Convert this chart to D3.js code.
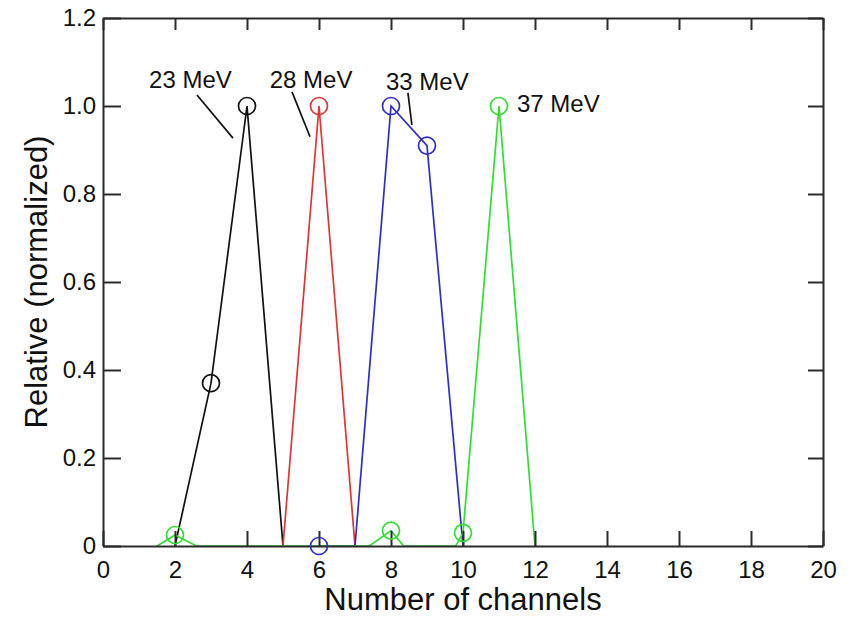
<!DOCTYPE html>
<html>
<head>
<meta charset="utf-8">
<script src="https://cdn.jsdelivr.net/npm/d3@7"></script>
<style>
  body { margin: 0; background: #fff; }
  svg { font-family: "Liberation Sans", Arial, Helvetica, sans-serif; }
  .frame path.domain, .frame line { stroke: #2a2a2a; stroke-width: 2; }
  .tick text { fill: #111; font-size: 24px; }
</style>
</head>
<body>
<svg width="854" height="617"></svg>
<script>
        // Chart data.
        const xTicks = [0, 2, 4, 6, 8, 10, 12, 14, 16, 18, 20];
        const yTicks = [0, 0.2, 0.4, 0.6, 0.8, 1.0, 1.2];

        const black23X = [2, 3, 4, 5];
        const black23Y = [0, 0.37, 1.0, 0];
        const black23Mark = [false, true, true, false];
        const red28X = [5, 6, 7];
        const red28Y = [0, 1.0, 0];
        const red28Mark = [false, true, false];
        const blue33X = [6, 7, 8, 9, 10];
        const blue33Y = [0, 0, 1.0, 0.91, 0];
        const blue33Mark = [true, false, true, true, false];
        const green37X = [1.5, 2, 2.6, 7.4, 8, 8.35, 9.8, 10, 11, 12];
        const green37Y = [0, 0.025, 0, 0, 0.035, 0, 0, 0.03, 1.0, 0];
        const green37Mark = [false, true, false, false, true, false, false, true, true, false];

        const seriesNames = ["23 MeV", "28 MeV", "33 MeV", "37 MeV"];
        const seriesColors = ["#111111", "#e23535", "#2e2ecf", "#30de30"];

        // Label anchors in data units, plus the leader lines.
        const labelX = [2.43, 5.78, 9.01, 11.5];
        const labelY = [1.041, 1.041, 1.036, 0.986];
        const labelAnchor = ["middle", "middle", "middle", "start"];
        const leaders = [
            [[2.61, 1.025], [3.61, 0.927]],
            [[5.25, 1.032], [5.75, 0.93]],
            [[8.47, 1.03], [8.58, 0.957]]
        ];

        const svg = d3.select("svg");
        const margin = { left: 103, right: 31, top: 18, bottom: 71 };
        const width = 854 - margin.left - margin.right;
        const height = 617 - margin.top - margin.bottom;

        const x = d3.scaleLinear().domain([0, 20]).range([margin.left, margin.left + width]);
        const y = d3.scaleLinear().domain([0, 1.2]).range([margin.top + height, margin.top]);

        const series = [
            { xs: black23X, ys: black23Y, marks: black23Mark },
            { xs: red28X, ys: red28Y, marks: red28Mark },
            { xs: blue33X, ys: blue33Y, marks: blue33Mark },
            { xs: green37X, ys: green37Y, marks: green37Mark }
        ].map((s, i) => ({
            name: seriesNames[i],
            color: seriesColors[i],
            points: s.xs.map((v, j) => ({ x: v, y: s.ys[j], mark: s.marks[j] }))
        }));

        const line = d3.line().x(d => x(d.x)).y(d => y(d.y));

        // Data lines first, so the frame covers the parts lying on zero.
        svg.append("g").selectAll("path")
            .data(series)
            .enter()
            .append("path")
            .attr("d", d => line(d.points))
            .attr("fill", "none")
            .attr("stroke", d => d.color)
            .attr("stroke-width", 1.7);

        // Frame with inward ticks on all four sides.
        svg.append("g")
            .attr("class", "frame")
            .attr("transform", `translate(0,${y(0)})`)
            .call(d3.axisBottom(x).tickValues(xTicks).tickSizeInner(-15).tickSizeOuter(0).tickPadding(15))
            .call(g => g.selectAll(".tick text").attr("dy", "0.71em"));

        svg.append("g")
            .attr("class", "frame")
            .attr("transform", `translate(0,${y(1.2)})`)
            .call(d3.axisTop(x).tickValues(xTicks).tickSizeInner(-12).tickSizeOuter(0).tickFormat(""));

        svg.append("g")
            .attr("class", "frame")
            .attr("transform", `translate(${x(0)},0)`)
            .call(d3.axisLeft(y).tickValues(yTicks).tickSizeInner(-18).tickSizeOuter(0).tickPadding(7)
                .tickFormat(d => d === 0 ? "0" : d.toFixed(1)));

        svg.append("g")
            .attr("class", "frame")
            .attr("transform", `translate(${x(20)},0)`)
            .call(d3.axisRight(y).tickValues(yTicks).tickSizeInner(-15).tickSizeOuter(0).tickFormat(""));

        // Open circle markers.
        svg.append("g").selectAll("g")
            .data(series)
            .enter()
            .append("g")
            .attr("stroke", d => d.color)
            .selectAll("circle")
            .data(d => d.points.filter(p => p.mark))
            .enter()
            .append("circle")
            .attr("cx", d => x(d.x))
            .attr("cy", d => y(d.y))
            .attr("r", 8.5)
            .attr("fill", "none")
            .attr("stroke-width", 1.7);

        // Energy labels and leader lines.
        svg.append("g").selectAll("text")
            .data(seriesNames)
            .enter()
            .append("text")
            .attr("x", (d, i) => x(labelX[i]))
            .attr("y", (d, i) => y(labelY[i]))
            .attr("text-anchor", (d, i) => labelAnchor[i])
            .attr("font-size", 24)
            .attr("fill", "#111")
            .text(d => d);

        svg.append("g").selectAll("line")
            .data(leaders)
            .enter()
            .append("line")
            .attr("x1", d => x(d[0][0]))
            .attr("y1", d => y(d[0][1]))
            .attr("x2", d => x(d[1][0]))
            .attr("y2", d => y(d[1][1]))
            .attr("stroke", "#111")
            .attr("stroke-width", 1.7);

        // Axis titles.
        svg.append("text")
            .attr("x", x(10))
            .attr("y", 610)
            .attr("text-anchor", "middle")
            .attr("font-size", 31)
            .attr("fill", "#111")
            .text("Number of channels");

        svg.append("text")
            .attr("transform", `translate(47,${y(0.6)}) rotate(-90)`)
            .attr("text-anchor", "middle")
            .attr("font-size", 31)
            .attr("fill", "#111")
            .text("Relative (normalized)");
</script>
</body>
</html>
